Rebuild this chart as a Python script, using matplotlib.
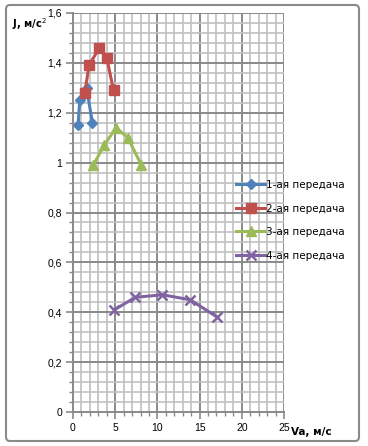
import numpy as np
import matplotlib.pyplot as plt
from matplotlib.ticker import MultipleLocator, FuncFormatter
from matplotlib.patches import FancyBboxPatch

# данные по передачам (Va, м/с ; J, м/с2)
va1 = [0.6, 0.8, 1.6, 2.3]
j1 = [1.15, 1.25, 1.30, 1.16]
va2 = [1.4, 1.9, 3.1, 4.0, 4.8]
j2 = [1.28, 1.39, 1.46, 1.42, 1.29]
va3 = [2.4, 3.7, 5.1, 6.5, 8.1]
j3 = [0.99, 1.07, 1.14, 1.10, 0.99]
va4 = [4.9, 7.4, 10.6, 13.9, 17.1]
j4 = [0.41, 0.46, 0.47, 0.45, 0.38]
names = ['1-ая передача', '2-ая передача', '3-ая передача', '4-ая передача']

fig = plt.figure(figsize=(3.68, 4.46), dpi=100)
ax = fig.add_axes([73/368, 1-412/446, 211/368, 399/446])

ax.plot(va1, j1, color='#4f81bd', lw=2.2, marker='D', ms=5, label=names[0])
ax.plot(va2, j2, color='#c0504d', lw=2.2, marker='s', ms=7, label=names[1])
ax.plot(va3, j3, color='#9bbb59', lw=2.2, marker='^', ms=7, label=names[2])
ax.plot(va4, j4, color='#8064a2', lw=2.2, marker='x', ms=7, mew=1.8, label=names[3])

ax.set_xlim(0, 25)
ax.set_ylim(0, 1.6)
ax.xaxis.set_major_locator(MultipleLocator(5))
ax.xaxis.set_minor_locator(MultipleLocator(1))
ax.yaxis.set_major_locator(MultipleLocator(0.2))
ax.yaxis.set_minor_locator(MultipleLocator(0.04))
fmt = FuncFormatter(lambda v, p: ('%g' % round(v, 2)).replace('.', ','))
ax.xaxis.set_major_formatter(fmt)
ax.yaxis.set_major_formatter(fmt)

ax.grid(which='minor', color='#c0c0c0', lw=1.2)
ax.grid(which='major', color='#8a8a8a', lw=1.4)
ax.set_axisbelow(True)
for s in ['top', 'right']:
    ax.spines[s].set_visible(False)
for s in ['left', 'bottom']:
    ax.spines[s].set_color('#8a8a8a')
    ax.spines[s].set_linewidth(1.4)
ax.tick_params(which='major', length=5, width=1.2, color='#8a8a8a', labelsize=7.5, pad=3)
ax.tick_params(which='minor', length=3, width=1, color='#8a8a8a')
for lab in ax.get_xticklabels() + ax.get_yticklabels():
    lab.set_fontfamily('Liberation Sans')

fig.text(12/368, 1-28/446, 'J, м/с$^{2}$', fontsize=7.2, fontweight='bold', family='DejaVu Sans')
fig.text(291/368, 1-432/446, 'Va, м/с', fontsize=7.5, fontweight='bold', family='DejaVu Sans', va='center')

leg = fig.legend(loc='upper left', bbox_to_anchor=(236/368, 1-180/446), frameon=False,
                 fontsize=7.5, numpoints=1, handlelength=2.8, handletextpad=0.1, labelspacing=1.3,
                 borderpad=0, borderaxespad=0)

fig.patches.append(FancyBboxPatch((6/368, 5/446), 353/368, 436/446, boxstyle='round,pad=0,rounding_size=0.01',
                                  transform=fig.transFigure, fill=False, ec='#8a8a8a', lw=1.5))

fig.savefig('out.png', dpi=100)
